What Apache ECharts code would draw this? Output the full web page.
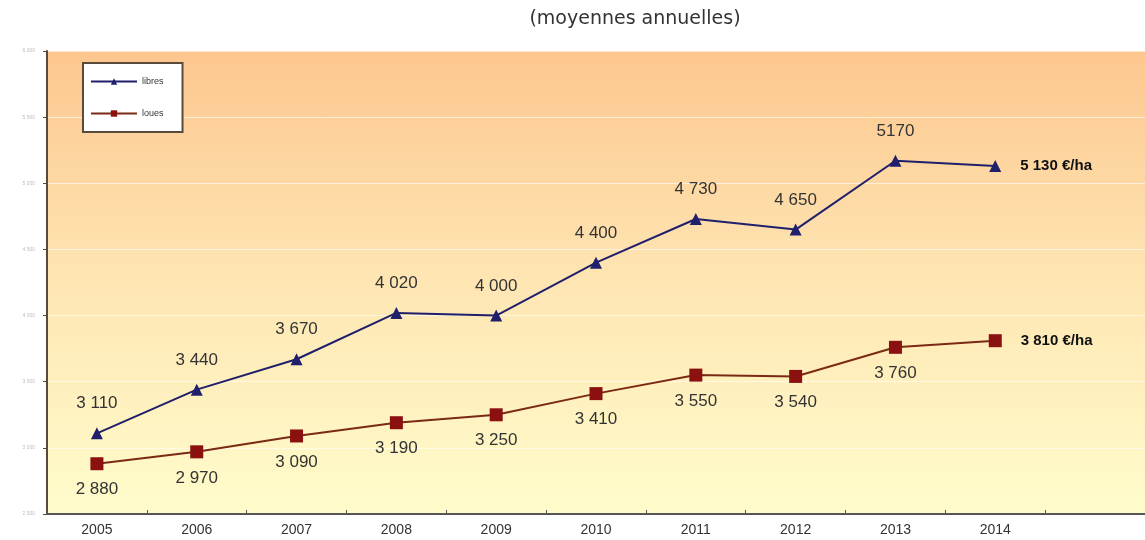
<!DOCTYPE html>
<html><head><meta charset="utf-8">
<script src="https://cdn.jsdelivr.net/npm/echarts@6/dist/echarts.min.js"></script>
<style>html,body{margin:0;padding:0;background:#fff}#c{width:1145px;height:540px}</style>
</head><body><div id="c"></div>
<script>
const categories = ['2005','2006','2007','2008','2009','2010','2011','2012','2013','2014',''];
const libres = [3110, 3440, 3670, 4020, 4000, 4400, 4730, 4650, 5170, 5130];
const loues = [2880, 2970, 3090, 3190, 3250, 3410, 3550, 3540, 3760, 3810];
const yTicks = [2500, 3000, 3500, 4000, 4500, 5000, 5500, 6000];
const titleText = '(moyennes annuelles)';
const unit = ' €/ha';

function fmt(v){ return String(v).replace(/\B(?=(\d{3})+(?!\d))/g, ' '); }
const last = libres.length - 1;

function mkData(arr){
  return arr.map((v,i)=> {
    if (i===last) return {value:v, label:{position:'right', distance:19, fontWeight:'bold', fontFamily:'Liberation Sans', fontSize:15, color:'#111', formatter: fmt(v)+unit}};
    if (v===5170) return {value:v, label:{formatter:String(v)}};
    return v;
  });
}

const chart = echarts.init(document.getElementById('c'), null, {renderer:'canvas'});
chart.setOption({
  animation:false,
  title:{text:titleText, left:630, top:5, textAlign:'center', textStyle:{fontFamily:'DejaVu Sans', fontSize:19, fontWeight:'normal', color:'#333'}},
  grid:{left:47, right:-2, top:51, bottom:26, show:true, borderWidth:0,
    backgroundColor:{type:'linear', x:0, y:0, x2:0, y2:1, colorStops:[
      {offset:0, color:'#fdc68f'}, {offset:0.5, color:'#fee6b3'}, {offset:1, color:'#fffccb'}]}},
  legend:{left:83, top:63, orient:'vertical', itemWidth:46, itemHeight:8, itemGap:23,
    padding:[14,19,14,7], backgroundColor:'#fff', borderColor:'#5a4a3a', borderWidth:2, borderRadius:0,
    textStyle:{fontFamily:'Liberation Sans', fontSize:9, color:'#333'},
    data:['libres','loues']},
  xAxis:{type:'category', data:categories, boundaryGap:true,
    axisLine:{lineStyle:{color:'#555', width:2}},
    axisTick:{show:true, inside:true, length:4, lineStyle:{color:'#555'}},
    axisLabel:{fontFamily:'Liberation Sans', fontSize:14, color:'#333', margin:9}},
  yAxis:{type:'value', min:2500, max:6000, interval:500,
    axisLine:{show:true, lineStyle:{color:'#5a4a3a', width:2}},
    axisTick:{show:true, length:4, lineStyle:{color:'#5a4a3a'}},
    axisLabel:{fontSize:5, color:'#bbb', formatter:(v)=> yTicks.includes(v)? fmt(v):'', margin:12},
    splitLine:{show:true, lineStyle:{color:'rgba(255,255,255,0.6)', width:1}}},
  series:[
    {name:'libres', type:'line', data:mkData(libres), symbol:'triangle', symbolSize:12,
      lineStyle:{color:'#1f1f6b', width:2}, itemStyle:{color:'#1f1f6b'},
      label:{show:true, position:'top', distance:15, fontFamily:'Liberation Sans', fontSize:17, color:'#333', formatter:(p)=>fmt(p.value)}},
    {name:'loues', type:'line', data:mkData(loues), symbol:'rect', symbolSize:13,
      lineStyle:{color:'#7a2a14', width:2}, itemStyle:{color:'#8b1010'},
      label:{show:true, position:'bottom', distance:11, fontFamily:'Liberation Sans', fontSize:17, color:'#333', formatter:(p)=>fmt(p.value)}}
  ]
});
</script></body></html>
